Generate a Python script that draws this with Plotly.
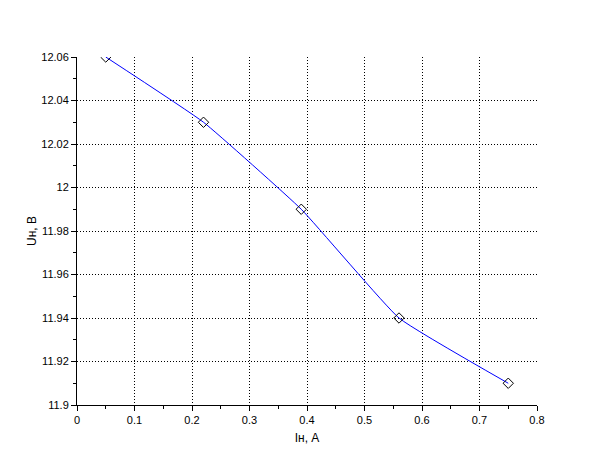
import plotly.graph_objects as go

current = [0.05, 0.22, 0.39, 0.56, 0.75]
voltage = [12.06, 12.03, 11.99, 11.94, 11.91]
x_label = "Iн, А"
y_label = "Uн, В"

fig = go.Figure()
fig.add_trace(go.Scatter(
    x=current, y=voltage, mode="lines",
    line=dict(color="#0000ff", width=1, shape="spline", smoothing=0.35),
    hoverinfo="skip", showlegend=False, cliponaxis=True,
))
fig.add_trace(go.Scatter(
    x=current, y=voltage, mode="markers",
    marker=dict(symbol="diamond-open", size=8, color="black", line=dict(width=1, color="black")),
    showlegend=False, cliponaxis=True,
))

font = "Liberation Sans, Arial, sans-serif"
axis_common = dict(
    showgrid=True, gridcolor="black", griddash="1px,2px", gridwidth=1,
    showline=True, linecolor="black", linewidth=1,
    ticks="outside", ticklen=5, tickcolor="black",
    tickfont=dict(family=font, size=11, color="black"),
    zeroline=False, mirror=False,
)
fig.update_xaxes(range=[0, 0.8], dtick=0.1, tick0=0,
                 minor=dict(dtick=0.05, ticks="outside", ticklen=3, tickcolor="black", showgrid=False),
                 title=dict(text=x_label, font=dict(family=font, size=12, color="black"), standoff=8),
                 **axis_common)
fig.update_yaxes(range=[11.9, 12.06], dtick=0.02, tick0=11.9,
                 minor=dict(dtick=0.01, ticks="outside", ticklen=3, tickcolor="black", showgrid=False),
                 title=dict(text=y_label, font=dict(family=font, size=12, color="black"), standoff=2),
                 **axis_common)
fig.update_layout(
    width=610, height=460,
    margin=dict(l=69, r=81, t=49, b=63),
    paper_bgcolor="white", plot_bgcolor="white",
)
fig.write_html("out.html")
